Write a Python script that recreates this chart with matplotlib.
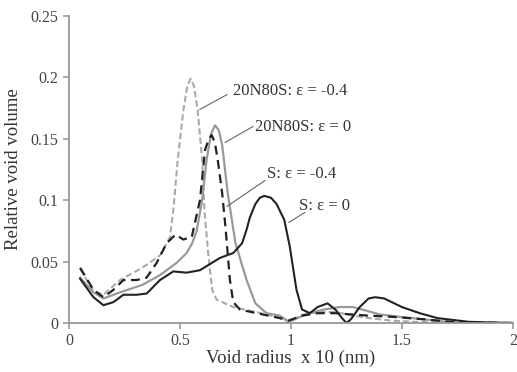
import matplotlib
matplotlib.use("Agg")
import matplotlib.pyplot as plt

plt.rcParams['font.family'] = ['Liberation Serif', 'DejaVu Serif']

# S: eps = 0 (black solid)
x_s0 = [0.05, 0.11, 0.155, 0.20, 0.245, 0.305, 0.35, 0.41, 0.47, 0.53, 0.59, 0.68,
        0.74, 0.78, 0.80, 0.815, 0.84, 0.86, 0.88, 0.91, 0.935, 0.97, 0.995, 1.025, 1.05,
        1.085, 1.12, 1.165, 1.20, 1.23, 1.25, 1.27, 1.31, 1.35, 1.38, 1.42, 1.50, 1.58,
        1.66, 1.80, 1.90, 2.00]
y_s0 = [0.036, 0.021, 0.0145, 0.017, 0.023, 0.023, 0.024, 0.035, 0.042, 0.041, 0.043,
        0.053, 0.057, 0.065, 0.076, 0.086, 0.097, 0.102, 0.1035, 0.102, 0.097, 0.084,
        0.062, 0.027, 0.011, 0.008, 0.013, 0.016, 0.011, 0.004, 0.0, 0.003, 0.013, 0.020,
        0.021, 0.020, 0.013, 0.008, 0.004, 0.001, 0.0004, 0.0]

# 20N80S: eps = 0 (gray solid)
x_n0 = [0.05, 0.11, 0.155, 0.23, 0.33, 0.41, 0.485, 0.53, 0.555, 0.575, 0.60, 0.62,
        0.64, 0.658, 0.675, 0.69, 0.715, 0.75, 0.80, 0.84, 0.89, 0.95, 0.99, 1.03, 1.08,
        1.15, 1.22, 1.28, 1.34, 1.40, 1.49, 1.60, 1.75, 2.00]
y_n0 = [0.037, 0.025, 0.020, 0.025, 0.031, 0.039, 0.049, 0.057, 0.065, 0.075, 0.100,
        0.133, 0.154, 0.161, 0.157, 0.145, 0.106, 0.065, 0.035, 0.016, 0.008, 0.006,
        0.001, 0.004, 0.008, 0.011, 0.013, 0.013, 0.010, 0.007, 0.005, 0.003, 0.0, 0.0]

# S: eps = -0.4 (black dashed)
x_sm = [0.05, 0.11, 0.155, 0.20, 0.245, 0.305, 0.35, 0.395, 0.44, 0.48, 0.515, 0.553,
        0.59, 0.613, 0.63, 0.643, 0.657, 0.67, 0.69, 0.705, 0.725, 0.74, 0.77, 0.845,
        0.95, 0.99, 1.05, 1.12, 1.20, 1.27, 1.35, 1.46, 1.60, 1.72, 1.82, 2.00]
y_sm = [0.045, 0.027, 0.021, 0.027, 0.035, 0.035, 0.037, 0.049, 0.065, 0.072, 0.068,
        0.070, 0.100, 0.141, 0.150, 0.153, 0.147, 0.133, 0.106, 0.078, 0.035, 0.017,
        0.011, 0.008, 0.004, 0.002, 0.006, 0.008, 0.008, 0.007, 0.006, 0.005, 0.003,
        0.001, 0.0005, 0.0]

# 20N80S: eps = -0.4 (light gray dashed)
x_nm = [0.05, 0.11, 0.155, 0.23, 0.33, 0.41, 0.455, 0.47, 0.49, 0.515, 0.533, 0.548,
        0.563, 0.58, 0.60, 0.61, 0.627, 0.645, 0.665, 0.74, 0.89, 0.95, 0.995, 1.04,
        1.08, 1.15, 1.20, 1.28, 1.35, 1.45, 1.55, 1.70, 2.00]
y_nm = [0.044, 0.026, 0.023, 0.035, 0.045, 0.055, 0.070, 0.092, 0.133, 0.173, 0.193,
        0.199, 0.193, 0.173, 0.133, 0.092, 0.057, 0.027, 0.019, 0.013, 0.007, 0.004,
        0.001, 0.006, 0.008, 0.009, 0.009, 0.006, 0.004, 0.002, 0.001, 0.0003, 0.0]

x_ticks = [0, 0.5, 1, 1.5, 2]
x_tick_labels = ["0", "0.5", "1", "1.5", "2"]
y_ticks = [0, 0.05, 0.1, 0.15, 0.2, 0.25]
y_tick_labels = ["0", "0.05", "0.1", "0.15", "0.2", "0.25"]

fig = plt.figure(figsize=(5.17, 3.72), dpi=100)
ax = fig.add_axes([0.1335, 0.1317, 0.8585, 0.8253])

ax.plot(x_nm, y_nm, color='#aaaaaa', lw=1.5, ls=(0, (3, 1.5)))
ax.plot(x_n0, y_n0, color='#999999', lw=1.6)
ax.plot(x_sm, y_sm, color='#222222', lw=1.6, ls=(0, (4, 2.5)))
ax.plot(x_s0, y_s0, color='#222222', lw=1.5)

ax.set_xlim(0, 2)
ax.set_ylim(0, 0.25)
ax.set_xticks(x_ticks)
ax.set_xticklabels(x_tick_labels)
ax.set_yticks(y_ticks)
ax.set_yticklabels(y_tick_labels)
for s in ['top', 'right']:
    ax.spines[s].set_visible(False)
for s in ['left', 'bottom']:
    ax.spines[s].set_color('#999999')
    ax.spines[s].set_linewidth(1.3)
ax.tick_params(colors='#999999', labelcolor='#444444', labelsize=11.5, length=4, width=1.2)

ax.set_xlabel('Void radius  x 10 (nm)', fontsize=13.5, color='#333333', labelpad=0)
ax.set_ylabel('Relative void volume', fontsize=13.5, color='#333333', labelpad=6)

# annotation labels and leader lines
labels = ['20N80S: ε = -0.4', '20N80S: ε = 0', 'S: ε = -0.4', 'S: ε = 0']
label_pos = [(0.74, 0.189), (0.84, 0.160), (0.89, 0.121), (1.036, 0.095)]
leader_start = [(0.59, 0.174), (0.703, 0.147), (0.712, 0.095), (0.991, 0.082)]
leader_end = [(0.712, 0.186), (0.829, 0.160), (0.883, 0.116), (1.063, 0.090)]

for t, p, a, b in zip(labels, label_pos, leader_start, leader_end):
    ax.text(p[0], p[1], t, fontsize=12, color='#333333', va='center', ha='left')
    ax.plot([a[0], b[0]], [a[1], b[1]], color='#666666', lw=0.8)

fig.savefig('out.png', dpi=100)
